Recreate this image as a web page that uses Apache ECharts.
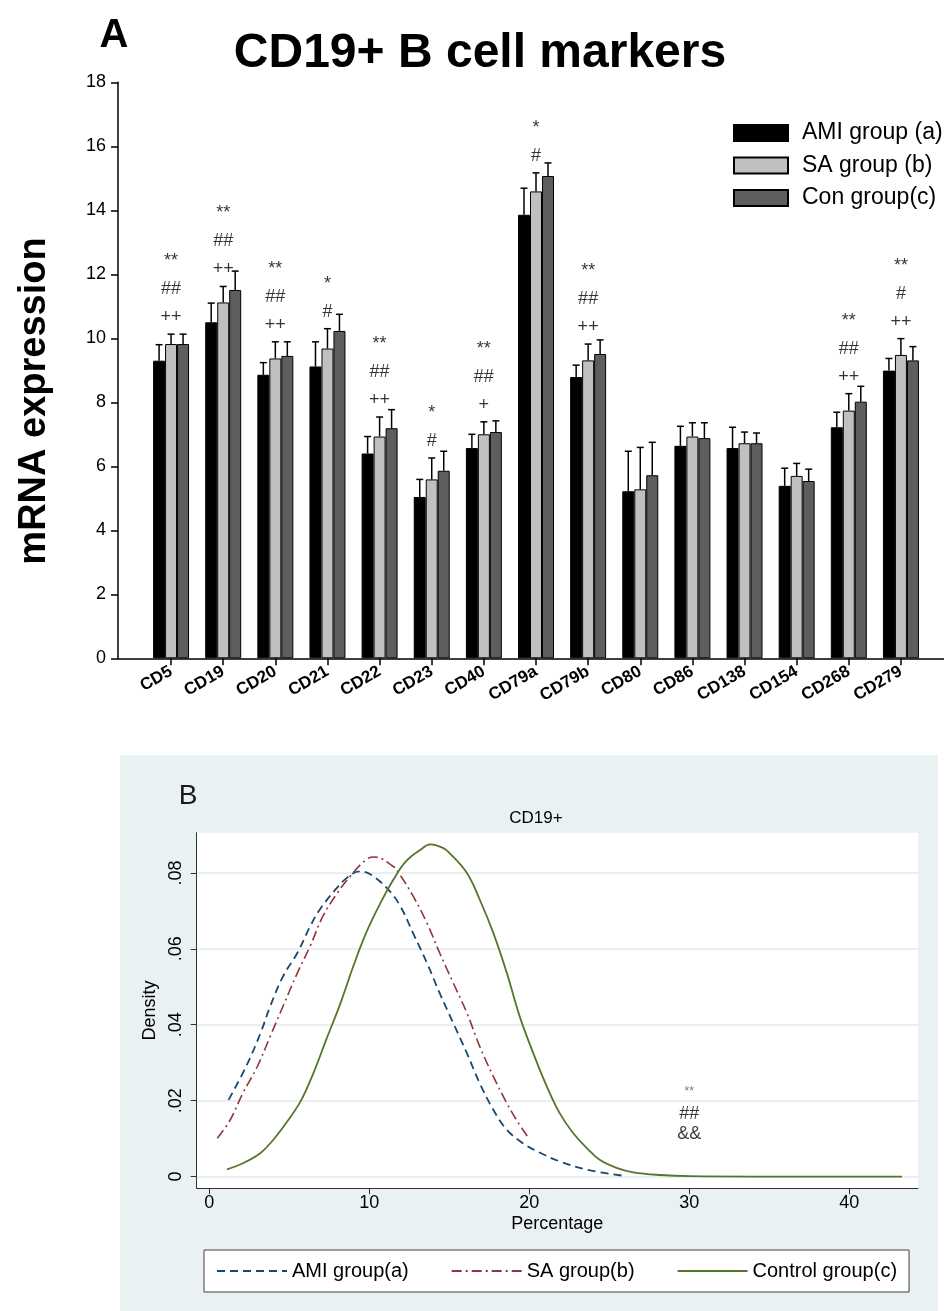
<!DOCTYPE html>
<html><head><meta charset="utf-8">
<script src="https://cdn.jsdelivr.net/npm/echarts@6/dist/echarts.min.js"></script>
<style>html,body{margin:0;padding:0;background:#fff}#c{width:944px;height:1311px}</style>
</head><body><div id="c"></div>
<script>
// ---------- Panel A data ----------
const categories = ['CD5','CD19','CD20','CD21','CD22','CD23','CD40','CD79a','CD79b','CD80','CD86','CD138','CD154','CD268','CD279'];
const amiMean = [9.30,10.50,8.86,9.12,6.40,5.04,6.57,13.86,8.79,5.22,6.64,6.57,5.39,7.22,8.99];
const amiSD   = [0.50,0.60,0.38,0.77,0.53,0.55,0.43,0.83,0.37,1.25,0.61,0.65,0.55,0.47,0.38];
const saMean  = [9.82,11.12,9.37,9.68,6.93,5.59,7.00,14.59,9.31,5.28,6.93,6.72,5.70,7.74,9.48];
const saSD    = [0.31,0.50,0.52,0.62,0.61,0.67,0.39,0.58,0.51,1.31,0.43,0.35,0.39,0.53,0.51];
const conMean = [9.82,11.51,9.45,10.23,7.19,5.86,7.07,15.07,9.51,5.72,6.88,6.72,5.54,8.02,9.31];
const conSD   = [0.31,0.59,0.44,0.52,0.58,0.61,0.35,0.41,0.44,1.03,0.48,0.32,0.37,0.48,0.43];
const annotA  = ['**\n##\n++','**\n##\n++','**\n##\n++','*\n#','**\n##\n++','*\n#','**\n##\n+','*\n#','**\n##\n++','','','','','**\n##\n++','**\n#\n++'];

// ---------- Panel B data (density curves: [percentage, density]) ----------
const amiCurve = [[1.2,.0202],[2.3,.029],[3.2,.0378],[3.8,.0448],[4.6,.0527],[5.5,.0589],[6.3,.0659],[6.9,.0703],[7.8,.0752],[8.6,.0787],[9.4,.0804],[10.0,.0798],[11.1,.076],[11.9,.0715],[12.75,.064],[13.6,.0563],[14.4,.0483],[15.25,.0404],[16.1,.0325],[16.9,.0246],[17.75,.0176],[18.6,.0123],[19.6,.0088],[20.7,.0062],[21.9,.004],[23.6,.0018],[25.9,.0002]];
const saCurve = [[0.5,.0101],[1.3,.0149],[2.1,.022],[3.0,.029],[3.8,.0369],[4.6,.0448],[5.5,.0536],[6.3,.0607],[7.1,.0686],[8.0,.0747],[8.8,.0791],[9.8,.0835],[10.3,.0842],[11.5,.0817],[11.9,.0796],[12.75,.0738],[13.6,.0668],[14.4,.0589],[15.25,.051],[16.1,.0431],[16.9,.0343],[17.75,.0264],[18.6,.0193],[19.2,.0149],[19.9,.0105]];
const conCurve = [[1.1,.0019],[2.1,.0035],[3.2,.0062],[4.0,.0097],[4.8,.0141],[5.7,.0198],[6.5,.0272],[7.3,.036],[8.2,.0457],[9.0,.0554],[9.8,.0642],[10.7,.0721],[11.5,.0782],[12.3,.0831],[13.2,.0861],[13.8,.0875],[14.6,.0866],[15.0,.0853],[16.1,.08],[16.9,.073],[17.75,.0642],[18.6,.0536],[19.4,.0422],[20.25,.0325],[21.1,.0237],[21.9,.0167],[22.75,.0114],[23.6,.0075],[24.4,.0044],[25.5,.0022],[26.5,.0011],[28.2,.0004],[30.0,.0001],[34,0],[38,0],[43.3,0]];
const annotB = ['**','##','&&'];
const annotBPos = [30, 0.017];
const xTicksB = [0,10,20,30,40];
const yTicksB = [0,0.02,0.04,0.06,0.08];

const FONT = '"Liberation Sans", Arial, Helvetica, sans-serif';
const CAT_GAP = 0.31;
const chart = echarts.init(document.getElementById('c'));

function errSeries(k, means, sds) {
  return {
    type: 'custom', xAxisIndex: 0, yAxisIndex: 0, z: 5, silent: true,
    data: means.map((m, i) => [i, m, m + sds[i]]),
    renderItem(params, api) {
      const band = api.size([1, 0])[0];
      const bw = band * (1 - CAT_GAP) / 3;
      const b = api.coord([api.value(0), api.value(1)]);
      const t = api.coord([api.value(0), api.value(2)]);
      const x = b[0] + (k - 1) * bw;
      const st = { stroke: '#000', lineWidth: 1.5 };
      return { type: 'group', children: [
        { type: 'line', shape: { x1: x, y1: b[1], x2: x, y2: t[1] }, style: st },
        { type: 'line', shape: { x1: x - 3.5, y1: t[1], x2: x + 3.5, y2: t[1] }, style: st }
      ]};
    }
  };
}
function bar(name, data, color) {
  return { name, type: 'bar', xAxisIndex: 0, yAxisIndex: 0, data, barGap: '0%', barCategoryGap: (CAT_GAP*100)+'%',
    itemStyle: { color, borderColor: '#000', borderWidth: 1 }, silent: true };
}
const T = (extra) => Object.assign({ fontFamily: FONT, fill: '#000', align: 'center', verticalAlign: 'middle', textAlign: 'center', textVerticalAlign: 'middle' }, extra);

const option = {
  animation: false,
  textStyle: { fontFamily: FONT },
  graphic: [
    { type: 'rect', shape: { x: 120, y: 755, width: 818, height: 556 }, style: { fill: '#e9f1f3' }, z: -10, silent: true },
    { type: 'text', x: 114, y: 36, style: T({ text: 'A', fontSize: 40, fontWeight: 'bold' }) },
    { type: 'text', x: 480, y: 54, style: T({ text: 'CD19+ B cell markers', fontSize: 48, fontWeight: 'bold' }) },
    { type: 'text', x: 35, y: 401, rotation: Math.PI / 2, style: T({ text: 'mRNA expression', fontSize: 38, fontWeight: 'bold' }) },
    { type: 'text', x: 188, y: 796, style: T({ text: 'B', fontSize: 28, fill: '#1a1a1a' }) },
    { type: 'text', x: 536, y: 818, style: T({ text: 'CD19+', fontSize: 17 }) }
  ],
  legend: [
    { data: ['AMI group (a)', 'SA group (b)', 'Con group(c)'], orient: 'vertical', left: 733, top: 121.5, padding: 0,
      itemWidth: 54, itemHeight: 16, itemGap: 9.5, icon: 'rect', selectedMode: false,
      textStyle: { fontSize: 23, lineHeight: 16, color: '#000', fontFamily: FONT, padding: [0, 0, 0, 9] } },
    { data: ['AMI group(a)', 'SA group(b)', 'Control group(c)'], left: 204, top: 1250,
      itemWidth: 70, itemHeight: 12, itemGap: 42, padding: [11, 12], selectedMode: false,
      backgroundColor: '#fff', borderColor: '#404040', borderWidth: 1,
      itemStyle: { opacity: 0 },
      textStyle: { fontSize: 20, color: '#000', fontFamily: FONT } }
  ],
  grid: [
    { left: 145, right: 17, top: 82.3, bottom: 652.7 },
    { left: 118, right: 0, top: 82.3, bottom: 652.7 },
    { left: 196.7, right: 26, top: 832.7, bottom: 122.7, show: true, backgroundColor: '#fff', borderWidth: 0 }
  ],
  xAxis: [
    { type: 'category', gridIndex: 0, data: categories,
      axisLine: { show: false },
      axisTick: { show: true, alignWithLabel: true, length: 7, lineStyle: { color: '#000', width: 1.5 } },
      axisLabel: { rotate: 30, fontSize: 17, fontWeight: 'bold', color: '#000', margin: 12, interval: 0 } },
    { type: 'value', gridIndex: 1, min: 0, max: 1,
      axisLine: { show: true, onZero: false, lineStyle: { color: '#000', width: 1.5 } },
      axisTick: { show: false }, axisLabel: { show: false }, splitLine: { show: false } },
    { type: 'value', gridIndex: 2, min: -0.79, max: 44.3,
      axisLine: { show: true, onZero: false, lineStyle: { color: '#333', width: 1 } },
      axisTick: { show: true, length: 6, customValues: xTicksB, lineStyle: { color: '#333' } },
      axisLabel: { customValues: xTicksB, fontSize: 18, color: '#000', margin: 6 },
      splitLine: { show: false },
      name: 'Percentage', nameLocation: 'middle', nameGap: 27, nameTextStyle: { fontSize: 18, color: '#000' } }
  ],
  yAxis: [
    { type: 'value', gridIndex: 0, min: 0, max: 18, show: false },
    { type: 'value', gridIndex: 1, min: 0, max: 18, interval: 2,
      axisLine: { show: true, onZero: false, lineStyle: { color: '#000', width: 1.5 } },
      axisTick: { show: true, length: 7, lineStyle: { color: '#000', width: 1.5 } },
      axisLabel: { fontSize: 18, color: '#000', margin: 12 },
      splitLine: { show: false } },
    { type: 'value', gridIndex: 2, min: -0.0031, max: 0.0906,
      axisLine: { show: true, onZero: false, lineStyle: { color: '#333', width: 1 } },
      axisTick: { show: true, length: 6, customValues: yTicksB, lineStyle: { color: '#333' } },
      axisLabel: { customValues: yTicksB, rotate: 90, fontSize: 18, color: '#000', margin: 12,
        formatter: v => v === 0 ? '0' : String(+v.toFixed(2)).replace(/^0/, '') },
      splitLine: { show: true, lineStyle: { color: '#e3ebee', width: 1.5 } },
      name: 'Density', nameLocation: 'middle', nameGap: 34, nameTextStyle: { fontSize: 18, color: '#000' } }
  ],
  series: [
    bar('AMI group (a)', amiMean, '#000000'),
    bar('SA group (b)', saMean, '#c0c0c0'),
    bar('Con group(c)', conMean, '#5e5e5e'),
    errSeries(0, amiMean, amiSD),
    errSeries(1, saMean, saSD),
    errSeries(2, conMean, conSD),
    { type: 'scatter', xAxisIndex: 0, yAxisIndex: 0, symbolSize: 0, silent: true, z: 10,
      data: saMean.map((m, i) => [i, m + saSD[i]]),
      label: { show: true, position: 'top', distance: 3, fontSize: 18, lineHeight: 28, color: '#000',
        formatter: p => annotA[p.dataIndex] } },
    { name: 'AMI group(a)', type: 'line', xAxisIndex: 2, yAxisIndex: 2, data: amiCurve, symbol: 'none', smooth: 0.4,
      lineStyle: { color: '#1a476f', width: 1.8, type: [8, 5] }, itemStyle: { color: '#1a476f' }, silent: true },
    { name: 'SA group(b)', type: 'line', xAxisIndex: 2, yAxisIndex: 2, data: saCurve, symbol: 'none', smooth: 0.4,
      lineStyle: { color: '#90353b', width: 1.6, type: [10, 4, 2, 4] }, itemStyle: { color: '#90353b' }, silent: true },
    { name: 'Control group(c)', type: 'line', xAxisIndex: 2, yAxisIndex: 2, data: conCurve, symbol: 'none', smooth: 0.4,
      lineStyle: { color: '#55752f', width: 1.8 }, itemStyle: { color: '#55752f' }, silent: true },
    { type: 'scatter', xAxisIndex: 2, yAxisIndex: 2, symbolSize: 0, silent: true, z: 10,
      data: [annotBPos],
      label: { show: true, position: 'inside', color: '#000',
        formatter: () => '{s|' + annotB[0] + '}\n{n|' + annotB[1] + '}\n{n|' + annotB[2] + '}',
        rich: { s: { fontSize: 12, color: '#555', lineHeight: 24 }, n: { fontSize: 18, color: '#000', lineHeight: 20 } } } }
  ]
};
chart.setOption(option);
</script>
</body></html>
